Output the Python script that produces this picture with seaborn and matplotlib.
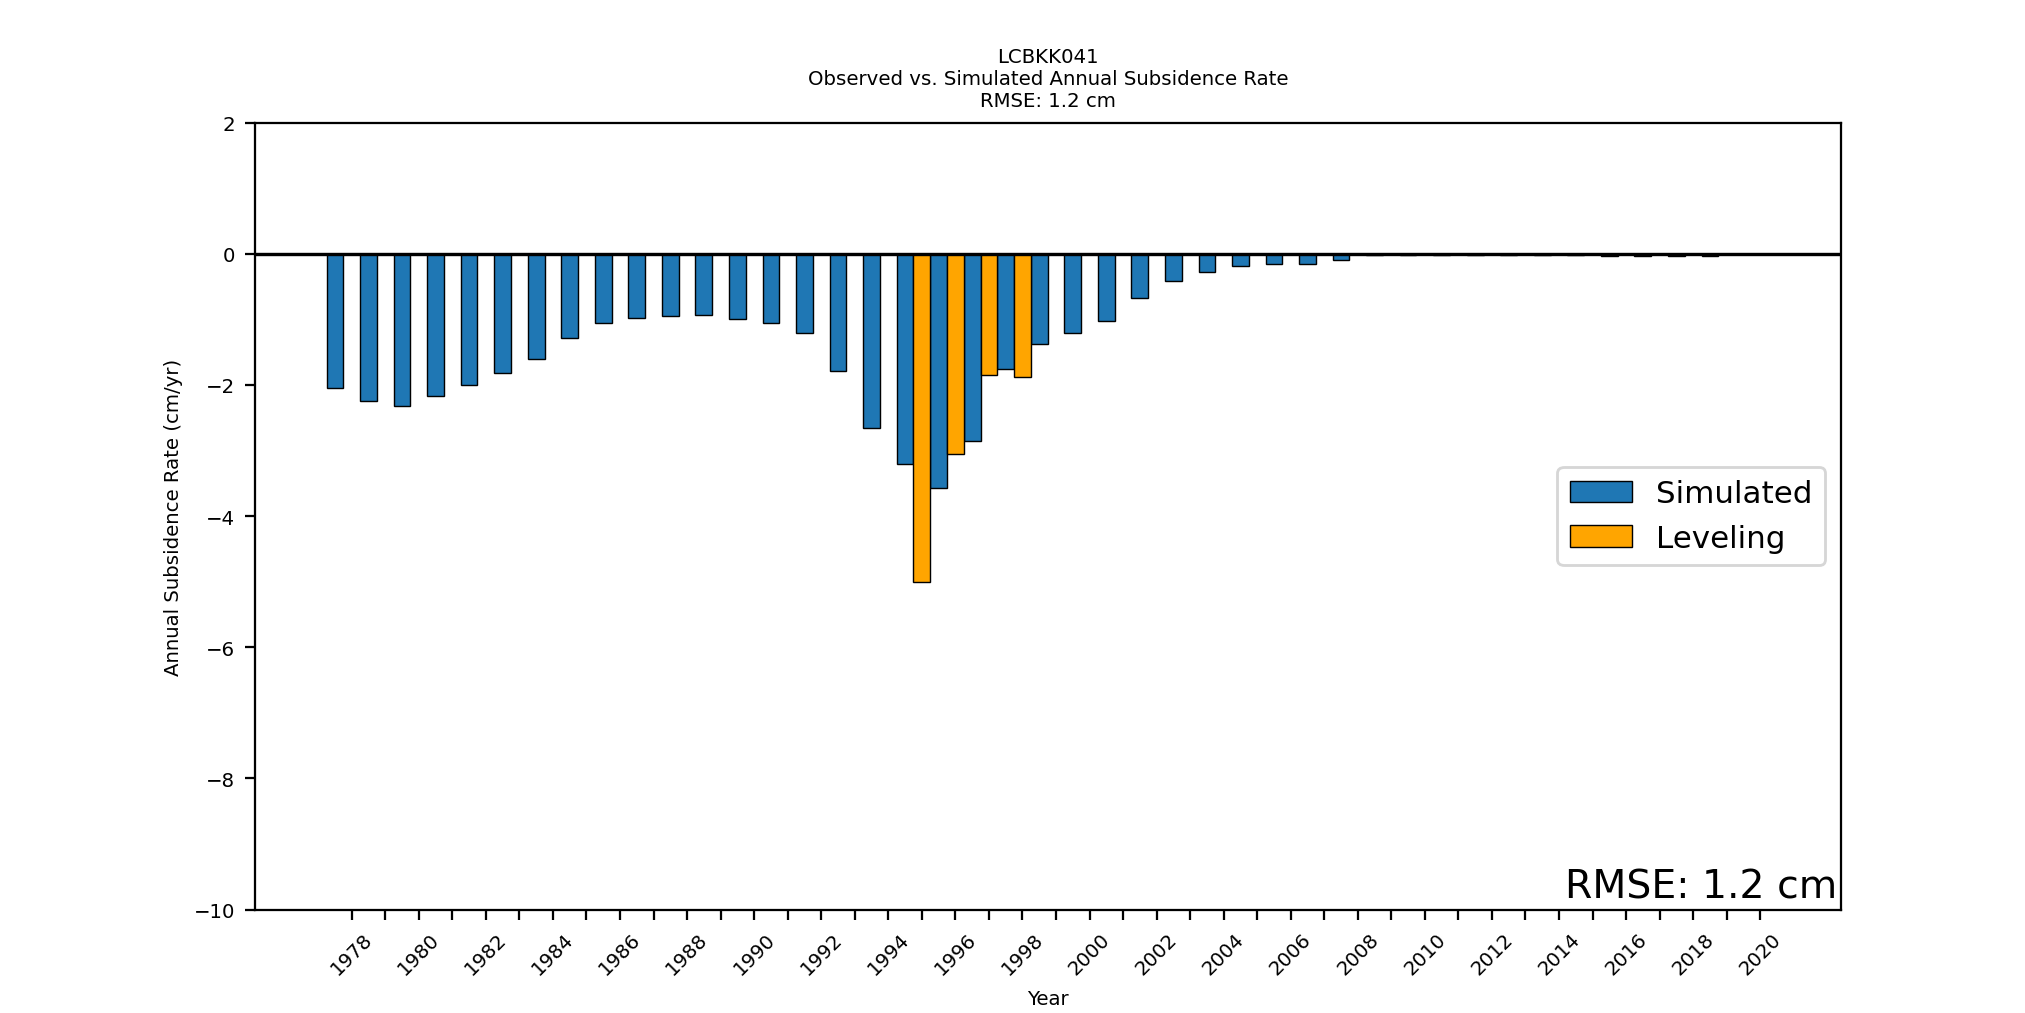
import matplotlib
matplotlib.use("Agg")
import matplotlib.pyplot as plt
import seaborn as sns
import numpy as np

sim_years = list(range(1977, 2020))
sim_vals = [-2.05, -2.25, -2.32, -2.17, -2.0, -1.82, -1.6, -1.28, -1.05, -0.98,
            -0.95, -0.93, -1.0, -1.05, -1.2, -1.78, -2.65, -3.2, -3.57, -2.85,
            -1.75, -1.37, -1.2, -1.03, -0.67, -0.42, -0.27, -0.18, -0.15, -0.15,
            -0.1, -0.01, -0.01, -0.01, -0.01, -0.01, -0.01, -0.01, -0.03, -0.03,
            -0.03, -0.03, 0.0]
lev_years = [1995, 1996, 1997, 1998]
lev_vals = [-5.0, -3.05, -1.85, -1.87]
tick_years = list(range(1978, 2021))

fig = plt.figure(figsize=(10, 5.007), dpi=202.5)
ax = fig.add_axes([0.126, 0.102, 0.783, 0.776])
ax.bar(np.array(sim_years) + 0.5, sim_vals, width=0.5, color="#1f77b4",
       edgecolor="black", linewidth=0.5, label="Simulated")
ax.bar(lev_years, lev_vals, width=0.5, color="orange",
       edgecolor="black", linewidth=0.5, label="Leveling")
ax.axhline(0, color="black", linewidth=1.2)
ax.set_xlim(1975.12, 2022.4)
ax.set_ylim(-10, 2)
ax.set_xticks(tick_years)
ax.set_xticklabels([str(y) if y % 2 == 0 else "" for y in tick_years],
                   rotation=45, fontsize=7)
ax.tick_params(axis="y", labelsize=7)
ax.set_xlabel("Year", fontsize=7)
ax.set_ylabel("Annual Subsidence Rate (cm/yr)", fontsize=7)
ax.set_title("LCBKK041\nObserved vs. Simulated Annual Subsidence Rate\nRMSE: 1.2 cm",
             fontsize=7)
ax.legend(loc="center right", fontsize=11)
ax.text(0.998, 0.005, "RMSE: 1.2 cm", transform=ax.transAxes, ha="right",
        va="bottom", fontsize=14)
fig.savefig("out.png", dpi=202.5)
